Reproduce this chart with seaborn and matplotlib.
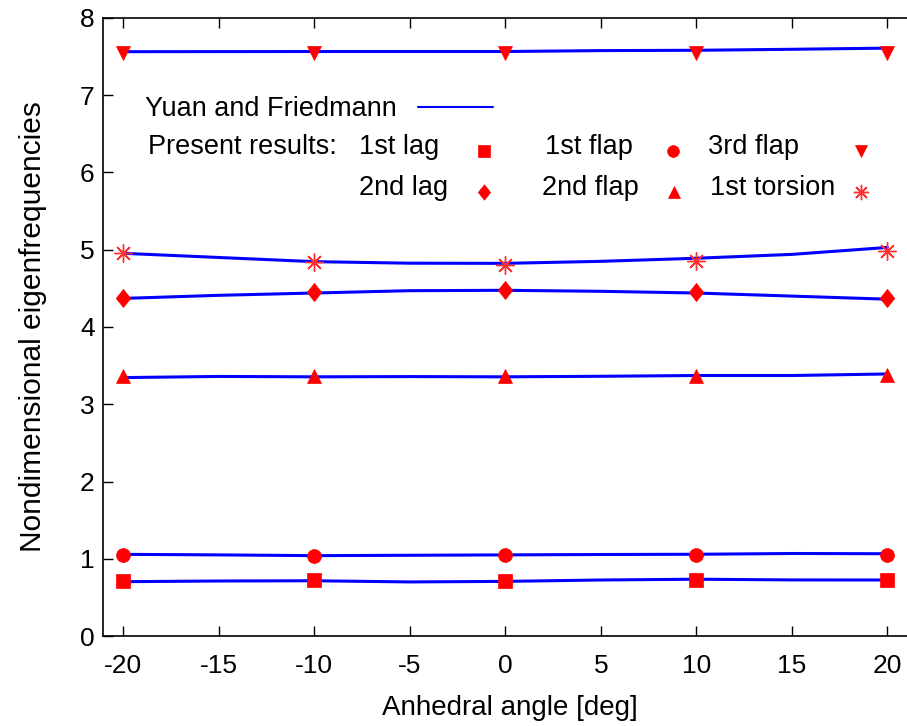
import matplotlib
matplotlib.use("Agg")
import matplotlib.pyplot as plt
import seaborn as sns
import pandas as pd
from matplotlib.lines import Line2D

# ---- data ----
angles_ref = [-20, -15, -10, -5, 0, 5, 10, 15, 20]
yf_lag1 = [0.703, 0.712, 0.715, 0.700, 0.707, 0.725, 0.735, 0.726, 0.725]
yf_flap1 = [1.057, 1.050, 1.040, 1.045, 1.050, 1.055, 1.058, 1.068, 1.065]
yf_flap2 = [3.345, 3.360, 3.355, 3.358, 3.355, 3.362, 3.372, 3.372, 3.392]
yf_lag2 = [4.370, 4.410, 4.440, 4.470, 4.475, 4.462, 4.440, 4.400, 4.360]
yf_tors1 = [4.954, 4.900, 4.846, 4.826, 4.824, 4.850, 4.890, 4.940, 5.030]
yf_flap3 = [7.564, 7.565, 7.566, 7.566, 7.566, 7.578, 7.582, 7.595, 7.610]

angles = [-20, -10, 0, 10, 20]
pr_lag1 = [0.71, 0.72, 0.71, 0.73, 0.72]
pr_flap1 = [1.05, 1.04, 1.05, 1.05, 1.05]
pr_flap2 = [3.37, 3.37, 3.36, 3.37, 3.38]
pr_lag2 = [4.38, 4.45, 4.48, 4.45, 4.38]
pr_tors1 = [4.96, 4.84, 4.80, 4.86, 4.99]
pr_flap3 = [7.55, 7.55, 7.55, 7.55, 7.55]

x_ticks = [-20, -15, -10, -5, 0, 5, 10, 15, 20]
y_ticks = [0, 1, 2, 3, 4, 5, 6, 7, 8]

modes = ["1st lag", "1st flap", "2nd flap", "2nd lag", "1st torsion", "3rd flap"]
yf_all = [yf_lag1, yf_flap1, yf_flap2, yf_lag2, yf_tors1, yf_flap3]
pr_all = [pr_lag1, pr_flap1, pr_flap2, pr_lag2, pr_tors1, pr_flap3]

# ---- styling ----
sns.set_style("ticks")
plt.rcParams['font.family'] = ['Liberation Sans', 'DejaVu Sans']
plt.rcParams['text.color'] = 'black'
plt.rcParams['axes.labelcolor'] = 'black'
plt.rcParams['xtick.color'] = 'black'
plt.rcParams['ytick.color'] = 'black'
plt.rcParams['axes.edgecolor'] = 'black'

RED = "#ff0000"
STAR = "#ff3030"
BLUE = "#0000ff"
diamond = [(0, 1), (0.8, 0), (0, -1), (-0.8, 0), (0, 1)]
markers = {"1st lag": "s", "1st flap": "o", "2nd flap": "^", "2nd lag": diamond,
           "1st torsion": (8, 2, 0), "3rd flap": "v"}
msizes = {"1st lag": 10, "1st flap": 10, "2nd flap": 10, "2nd lag": 13,
          "1st torsion": 13, "3rd flap": 10}

W, H = 907, 726
fig = plt.figure(figsize=(W / 100, H / 100), dpi=100)
ax = fig.add_axes([103 / W, (H - 636) / H, 1 - 103 / W + 0.01, (636 - 18) / H])

df_ref = pd.concat([pd.DataFrame({"angle": angles_ref, "freq": v, "mode": m})
                    for m, v in zip(modes, yf_all)])
df_pr = pd.concat([pd.DataFrame({"angle": angles, "freq": v, "mode": m})
                   for m, v in zip(modes, pr_all)])

for m in modes:
    d = df_ref[df_ref["mode"] == m]
    sns.lineplot(data=d, x="angle", y="freq", ax=ax, color=BLUE, lw=2.2,
                 legend=False, zorder=2)

def mcol(m):
    return STAR if m == "1st torsion" else RED

for m in modes:
    d = df_pr[df_pr["mode"] == m]
    ax.plot(d["angle"], d["freq"], ls="none", marker=markers[m],
            ms=msizes[m], color=mcol(m), mec=mcol(m),
            mew=1.0 if m == "1st torsion" else 0.5, zorder=3)

ax.set_xlim(-21.05, 21.5)
ax.set_ylim(0, 8)
ax.set_xticks(x_ticks)
ax.set_xticklabels([str(t) for t in x_ticks])
ax.set_yticks(y_ticks)
ax.tick_params(direction="in", length=7, width=1, labelsize=19, top=True,
               right=False)
ax.tick_params(axis="x", pad=13)
ax.tick_params(axis="y", pad=6)
for s in ["left", "bottom", "top"]:
    ax.spines[s].set_visible(True)
    ax.spines[s].set_linewidth(1.2)
ax.spines["right"].set_visible(False)
ax.set_xlabel("Anhedral angle [deg]", fontsize=20, labelpad=12)
ax.set_ylabel("Nondimensional eigenfrequencies", fontsize=21.5, labelpad=24)

# ---- custom legend (gnuplot style) ----
def fx(px):
    return px / W

def fy(py):
    return 1 - py / H

fs = 19.5
fig.text(fx(145), fy(109), "Yuan and Friedmann", fontsize=fs, va="center")
fig.add_artist(Line2D([fx(418), fx(493)], [fy(107), fy(107)],
                      color=BLUE, lw=1.5, transform=fig.transFigure))
fig.text(fx(148), fy(147), "Present results:", fontsize=fs, va="center")

entries = [("1st lag", 359, 147, 484), ("1st flap", 545, 147, 673),
           ("3rd flap", 708, 147, 861), ("2nd lag", 359, 188, 484),
           ("2nd flap", 542, 188, 674), ("1st torsion", 710, 188, 861)]
for name, tx, ty, mx in entries:
    fig.text(fx(tx), fy(ty), name, fontsize=fs, va="center")
    fig.add_artist(Line2D([fx(mx)], [fy(ty + 4)], ls="none",
                          marker=markers[name],
                          ms=msizes[name] * 0.85, color=mcol(name), mec=mcol(name),
                          mew=1.0 if name == "1st torsion" else 0.5,
                          transform=fig.transFigure))

fig.savefig("out.png", dpi=100)
